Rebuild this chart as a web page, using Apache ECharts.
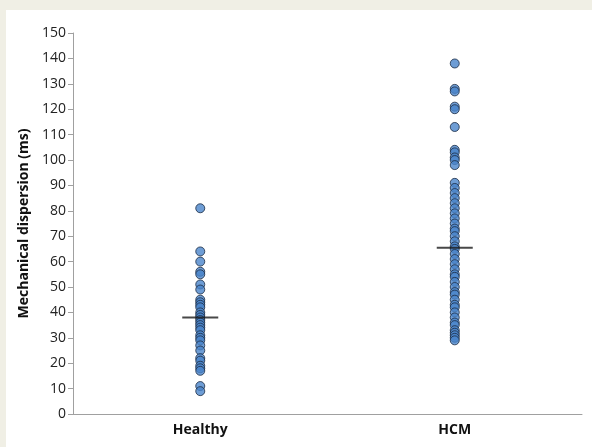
<!DOCTYPE html>
<html>
<head>
<meta charset="utf-8">
<script src="https://cdn.jsdelivr.net/npm/echarts@6/dist/echarts.min.js"></script>
<style>
  html, body { margin: 0; padding: 0; background: #f0efe5; }
  #panel { position: absolute; left: 6px; top: 10px; right: 0; bottom: 0; background: #fff; }
  #chart { position: absolute; left: 0; top: 0; width: 592px; height: 447px; }
</style>
</head>
<body>
<div id="panel"></div>
<div id="chart"></div>
<script>
// groups on the x axis
const categories = ['Healthy', 'HCM'];
const healthy = [81, 64, 60, 56, 55, 51, 49, 45, 44, 43, 42, 40, 39, 38, 37, 36, 35, 34, 33, 31, 30, 29, 27, 25, 22, 21, 19, 18, 17, 11, 9];
const hcm = [138, 128, 127, 121, 120, 113, 104, 103, 101, 100, 98, 91, 89, 87, 85, 83, 81, 79, 77, 75, 73, 72,
  70, 68, 66, 65, 63, 61, 59, 57, 55, 54, 52, 50, 48, 47, 45, 43, 42, 40, 38, 36, 35, 33, 32, 31, 30, 29];
// group means (horizontal bars)
const means = [38, 65.5];
const yTicks = { min: 0, max: 150, step: 10 };

const chart = echarts.init(document.getElementById('chart'));

const points = [];
healthy.forEach(v => points.push([0, v]));
hcm.forEach(v => points.push([1, v]));

const labelFont = '"Open Sans", "Liberation Sans", sans-serif';

chart.setOption({
  animation: false,
  grid: { left: 73, right: 10, top: 33, bottom: 33 },
  xAxis: {
    type: 'category',
    data: categories,
    boundaryGap: true,
    axisLine: { lineStyle: { color: '#a0a0a0', width: 1 } },
    axisTick: { show: false },
    axisLabel: { color: '#111', fontSize: 14, fontWeight: 'bold', fontFamily: labelFont, margin: 9 }
  },
  yAxis: {
    type: 'value',
    min: yTicks.min,
    max: yTicks.max,
    interval: yTicks.step,
    name: 'Mechanical dispersion (ms)',
    nameLocation: 'middle',
    nameGap: 37,
    nameTextStyle: { color: '#111', fontSize: 14, fontWeight: 'bold', fontFamily: labelFont },
    axisLine: { show: true, lineStyle: { color: '#a0a0a0', width: 1 } },
    axisTick: { show: true, length: 5, lineStyle: { color: '#a0a0a0' } },
    axisLabel: { color: '#222', fontSize: 14, fontFamily: labelFont, margin: 7 },
    splitLine: { show: false }
  },
  series: [
    {
      type: 'scatter',
      data: points,
      symbol: 'circle',
      symbolSize: 9,
      itemStyle: { color: '#4a85ca', borderColor: '#1c2c44', borderWidth: 1 }
    },
    {
      type: 'scatter',
      data: means.map((v, i) => [i, v]),
      symbol: 'rect',
      symbolSize: [36, 2],
      z: 5,
      itemStyle: { color: '#1a1a1a' }
    }
  ]
});
</script>
</body>
</html>
